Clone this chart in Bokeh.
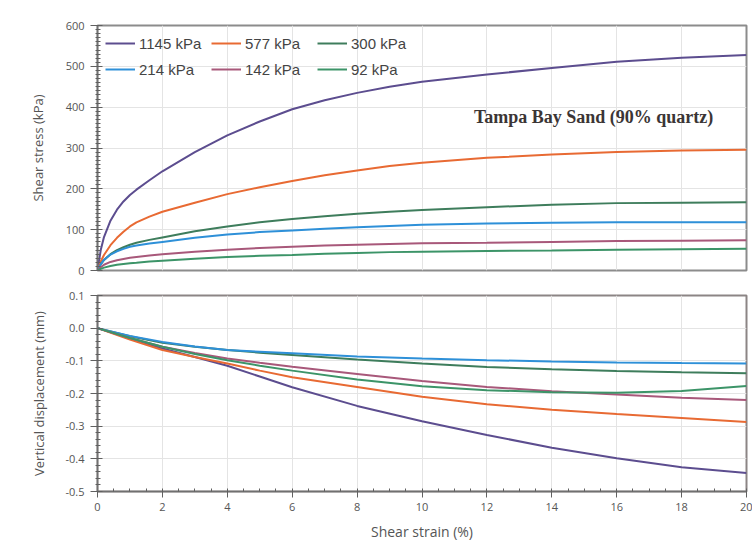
from bokeh.plotting import figure
from bokeh.models import (FixedTicker, NumeralTickFormatter, Label, Legend, LegendItem, Range1d)
from bokeh.layouts import column
from bokeh.embed import file_html
from bokeh.resources import INLINE

# ---------------- data ----------------
series_names = ["1145 kPa", "577 kPa", "300 kPa", "214 kPa", "142 kPa", "92 kPa"]
series_colors = ["#5c4d8f", "#e86a33", "#3e7d5c", "#2e90d8", "#a8587a", "#3c9468"]

strain_top = [0, 0.1, 0.2, 0.4, 0.6, 0.8, 1.0, 1.2, 1.6, 2, 3, 4, 5, 6, 7, 8, 9, 10, 12, 14, 16, 18, 20]
stress_1145 = [0, 50, 82, 122, 149, 169, 185, 198, 221, 243, 290, 331, 365, 395, 417, 435, 450, 462, 480, 496, 511, 521, 528]
stress_577 = [0, 22, 38, 62, 80, 95, 108, 118, 132, 144, 166, 187, 204, 219, 233, 245, 256, 264, 276, 284, 290, 294, 296]
stress_300 = [0, 15, 26, 40, 50, 57, 63, 68, 75, 81, 96, 108, 118, 126, 133, 139, 144, 148, 155, 161, 165, 166, 167]
stress_214 = [0, 15, 26, 39, 47, 53, 58, 61, 66, 70, 80, 88, 94, 98, 102, 106, 109, 112, 115, 117, 118, 118, 118]
stress_142 = [0, 8, 14, 21, 25, 28, 31, 33, 37, 40, 46, 51, 55, 58, 61, 63, 65, 67, 68, 70, 72, 73, 74]
stress_92 = [0, 4, 7, 11, 14, 16, 18, 19, 22, 24, 29, 33, 36, 38, 41, 43, 45, 46, 48, 49, 51, 52, 53]

strain_bot = [0, 1, 2, 3, 4, 5, 6, 8, 10, 12, 14, 16, 18, 20]
disp_1145 = [0, -0.032, -0.062, -0.088, -0.115, -0.148, -0.181, -0.238, -0.285, -0.327, -0.366, -0.398, -0.426, -0.443]
disp_577 = [0, -0.035, -0.067, -0.088, -0.108, -0.130, -0.150, -0.180, -0.210, -0.233, -0.250, -0.263, -0.275, -0.287]
disp_300 = [0, -0.025, -0.045, -0.057, -0.067, -0.075, -0.082, -0.096, -0.108, -0.119, -0.126, -0.131, -0.135, -0.138]
disp_214 = [0, -0.024, -0.042, -0.056, -0.067, -0.072, -0.077, -0.087, -0.093, -0.098, -0.102, -0.105, -0.107, -0.108]
disp_142 = [0, -0.030, -0.057, -0.076, -0.093, -0.106, -0.118, -0.140, -0.162, -0.180, -0.193, -0.203, -0.213, -0.220]
disp_92 = [0, -0.030, -0.057, -0.079, -0.098, -0.115, -0.130, -0.157, -0.178, -0.190, -0.196, -0.198, -0.192, -0.177]

x_ticks = [0, 2, 4, 6, 8, 10, 12, 14, 16, 18, 20]
y_ticks_top = [0, 100, 200, 300, 400, 500, 600]
y_ticks_bot = [0.1, 0.0, -0.1, -0.2, -0.3, -0.4, -0.5]

annotation_text = "Tampa Bay Sand (90% quartz)"
x_label = "Shear strain (%)"
y_label_top = "Shear stress (kPa)"
y_label_bot = "Vertical displacement (mm)"

stress_series = [stress_1145, stress_577, stress_300, stress_214, stress_142, stress_92]
disp_series = [disp_1145, disp_577, disp_300, disp_214, disp_142, disp_92]

# ---------------- style helpers ----------------
GRID = "#e4e4e4"
TICKC = "#606060"
LABC = "#555555"
FONT = "Open Sans"


def style_yaxis(ax):
    ax.axis_line_color = "#707070"
    ax.axis_line_width = 1.5
    ax.major_tick_line_color = TICKC
    ax.major_tick_in = 5
    ax.major_tick_out = 7
    ax.minor_tick_line_color = TICKC
    ax.minor_tick_in = 3
    ax.minor_tick_out = 2
    ax.major_label_text_font = FONT
    ax.major_label_text_font_size = "11px"
    ax.major_label_text_color = LABC
    ax.major_label_standoff = 6
    ax.axis_label_text_font = FONT
    ax.axis_label_text_font_size = "13px"
    ax.axis_label_text_font_style = "normal"
    ax.axis_label_text_color = LABC


x_range = Range1d(0, 20)

# ---------------- top figure ----------------
p1 = figure(width=752, height=282, x_range=x_range, y_range=Range1d(0, 600),
            output_backend="svg", toolbar_location=None, x_axis_location=None,
            min_border_left=97, min_border_right=6, min_border_top=25, min_border_bottom=12)
p1.outline_line_color = "#8c8c8c"
p1.outline_line_width = 2

minor_top = [v for v in range(0, 601, 10) if v % 100 != 0]
style_yaxis(p1.yaxis[0])
p1.yaxis.ticker = FixedTicker(ticks=y_ticks_top, minor_ticks=minor_top)
p1.yaxis.axis_label = y_label_top
p1.yaxis.axis_label_standoff = 16
p1.xgrid.ticker = FixedTicker(ticks=x_ticks)
p1.xgrid.grid_line_color = GRID
p1.ygrid.grid_line_color = GRID

renderers = []
for name, color, ys in zip(series_names, series_colors, stress_series):
    r = p1.line(strain_top, ys, line_color=color, line_width=2)
    renderers.append(r)

legend = Legend(items=[LegendItem(label=n, renderers=[r]) for n, r in zip(series_names, renderers)],
                location="top_left", orientation="horizontal", ncols=3,
                background_fill_alpha=0, border_line_alpha=0,
                label_text_font="Liberation Sans", label_text_font_size="15px",
                label_text_color="#444444", glyph_width=30, glyph_height=20,
                label_height=20, label_width=66, label_standoff=4, spacing=6, padding=8, margin=0)
p1.add_layout(legend)

p1.add_layout(Label(x=11.6, y=375, text=annotation_text, text_font="Liberation Serif",
                    text_font_style="bold", text_font_size="18px", text_color="#3b3535",
                    text_baseline="middle"))

# ---------------- bottom figure ----------------
p2 = figure(width=752, height=267, x_range=x_range, y_range=Range1d(-0.5, 0.1),
            output_backend="svg", toolbar_location=None,
            min_border_left=97, min_border_right=6, min_border_top=13, min_border_bottom=58)
p2.outline_line_color = "#8c8585"
p2.outline_line_width = 2

minor_bot = [round(-0.5 + 0.02 * i, 3) for i in range(31)]
minor_bot = [v for v in minor_bot if abs(round(v * 10) - v * 10) > 1e-6]
style_yaxis(p2.yaxis[0])
p2.yaxis.ticker = FixedTicker(ticks=y_ticks_bot, minor_ticks=minor_bot)
p2.yaxis.formatter = NumeralTickFormatter(format="0.0")
p2.yaxis.axis_label = y_label_bot
p2.yaxis.axis_label_standoff = 14

minor_x = [v * 0.5 for v in range(41) if v % 4 != 0]
xa = p2.xaxis[0]
xa.ticker = FixedTicker(ticks=x_ticks, minor_ticks=minor_x)
xa.axis_line_color = "#707070"
xa.axis_line_width = 1.5
xa.major_tick_line_color = TICKC
xa.major_tick_in = 3
xa.major_tick_out = 6
xa.minor_tick_line_color = TICKC
xa.minor_tick_in = 3
xa.minor_tick_out = 0
xa.major_label_text_font = FONT
xa.major_label_text_font_size = "11px"
xa.major_label_text_color = LABC
xa.major_label_standoff = 5
xa.axis_label = x_label
xa.axis_label_text_font = FONT
xa.axis_label_text_font_size = "14px"
xa.axis_label_text_font_style = "normal"
xa.axis_label_text_color = LABC
xa.axis_label_standoff = 8
p2.xgrid.grid_line_color = GRID
p2.ygrid.grid_line_color = GRID

for name, color, ys in zip(series_names, series_colors, disp_series):
    p2.line(strain_bot, ys, line_color=color, line_width=2)

layout = column(p1, p2, spacing=0)
open("out.html", "w").write(file_html(layout, INLINE))
